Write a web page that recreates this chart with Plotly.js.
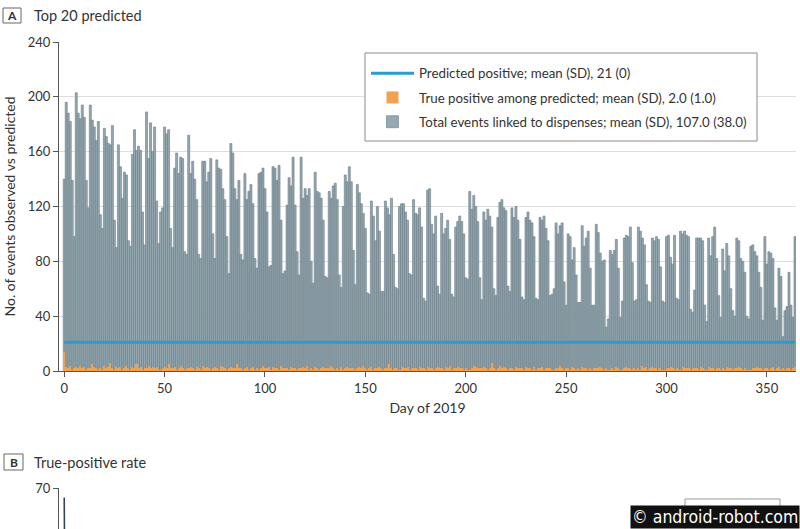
<!DOCTYPE html>
<html><head><meta charset="utf-8">
<script src="https://cdn.plot.ly/plotly-3.0.1.min.js"></script>
<style>html,body{margin:0;padding:0;background:#fff}#chart{width:800px;height:529px}</style>
</head><body><div id="chart"></div>
<script>
// Panel A: total events linked to dispenses, per day of 2019 (Jan 1 .. Dec 31)
const totalEvents = [
140,196,188,182,139,98,
203,188,184,194,185,139,119,
194,183,178,168,182,114,104,
177,171,166,165,179,110,90,
165,149,126,145,143,95,91,
158,176,161,164,161,116,92,
189,155,181,160,178,124,93,
116,119,178,173,176,104,90,
148,159,144,156,155,87,85,
172,144,153,140,125,85,82,
153,153,138,145,155,100,82,
154,148,147,133,125,98,71,
166,159,133,125,139,85,81,
144,125,131,136,122,82,75,
144,145,148,133,116,76,77,
149,148,139,150,110,71,73,
121,141,135,156,121,87,70,
156,126,133,128,133,80,64,
145,131,130,126,110,69,68,
131,126,135,137,125,70,61,
120,143,138,149,138,88,63,
136,130,122,115,104,57,56,
124,113,95,120,102,58,58,
124,119,114,126,85,61,60,
120,122,122,116,110,71,70,
125,115,114,119,105,53,51,
132,133,107,100,113,62,56,
115,100,104,110,96,56,54,
105,109,113,109,100,68,67,
131,118,128,120,109,68,52,
116,110,118,113,105,60,55,
112,123,125,119,117,62,58,
119,112,120,110,96,54,52,
112,116,110,108,98,53,52,
112,110,113,104,95,55,56,
60,108,100,106,108,65,48,
100,98,81,90,70,50,50,
106,91,97,102,75,48,48,
107,101,86,80,81,32,38,
88,85,88,96,75,39,51,
97,99,98,105,79,51,52,
105,102,97,92,63,51,50,
97,95,98,96,76,51,50,
98,99,83,78,99,53,52,
102,100,102,99,98,45,43,
59,97,97,97,95,48,36,
97,84,98,105,82,55,39,
89,73,93,84,60,44,40,
97,95,82,80,72,40,38,
91,92,87,84,72,61,37,
98,78,87,86,82,46,37,
75,69,25,44,47,72,48,
39,98
];
// True positives among the predicted, per day
const truePositives = [
14,3,2,4,1,2,
3,2,4,2,3,1,2,
2,5,3,2,1,2,1,
4,2,3,6,2,1,3,
2,3,1,2,4,2,1,
3,2,5,2,3,1,2,
2,4,2,3,2,3,1,
1,2,3,2,5,2,2,
3,1,2,4,2,1,2,
2,3,2,1,3,2,1,
4,2,3,2,1,2,3,
2,1,4,3,2,1,2,
3,2,2,5,2,2,1,
2,3,1,2,3,1,2,
1,2,4,2,2,3,1,
3,2,2,1,4,2,2,
2,1,3,2,2,1,2,
2,3,2,4,1,2,1,
3,2,1,2,3,2,2,
2,4,2,1,2,1,3,
1,2,3,2,2,2,1,
2,3,2,4,2,1,2,
3,1,2,2,3,2,1,
2,2,5,2,1,2,2,
1,3,2,2,3,1,2,
2,2,1,3,2,2,1,
3,2,2,1,2,3,2,
2,1,3,2,4,1,2,
2,3,2,2,1,2,1,
1,2,4,3,2,2,2,
3,2,1,2,6,2,1,
2,4,2,3,2,1,2,
2,1,3,2,2,2,1,
3,2,2,1,3,1,2,
2,3,1,2,2,2,1,
1,2,2,4,2,1,2,
2,1,3,2,1,2,1,
3,2,2,1,2,1,2,
2,2,3,2,1,2,1,
1,2,1,3,2,1,1,
2,3,2,2,1,2,1,
2,1,4,2,3,1,2,
3,2,2,1,2,1,1,
2,2,3,2,1,2,1,
1,3,2,2,2,1,2,
2,2,1,3,2,1,1,
3,2,2,1,2,2,1,
2,1,3,2,2,1,2,
2,3,2,1,2,1,1,
1,2,2,3,2,2,1,
2,2,1,2,3,1,2,
3,1,2,1,2,2,1,
2,3
];
// Predicted positive per day (constant 21, SD 0)
const predictedPositive = [
21,21,21,21,21,21,21,21,21,21,21,21,21,21,21,21,21,21,21,21,
21,21,21,21,21,21,21,21,21,21,21,21,21,21,21,21,21,21,21,21,
21,21,21,21,21,21,21,21,21,21,21,21,21,21,21,21,21,21,21,21,
21,21,21,21,21,21,21,21,21,21,21,21,21,21,21,21,21,21,21,21,
21,21,21,21,21,21,21,21,21,21,21,21,21,21,21,21,21,21,21,21,
21,21,21,21,21,21,21,21,21,21,21,21,21,21,21,21,21,21,21,21,
21,21,21,21,21,21,21,21,21,21,21,21,21,21,21,21,21,21,21,21,
21,21,21,21,21,21,21,21,21,21,21,21,21,21,21,21,21,21,21,21,
21,21,21,21,21,21,21,21,21,21,21,21,21,21,21,21,21,21,21,21,
21,21,21,21,21,21,21,21,21,21,21,21,21,21,21,21,21,21,21,21,
21,21,21,21,21,21,21,21,21,21,21,21,21,21,21,21,21,21,21,21,
21,21,21,21,21,21,21,21,21,21,21,21,21,21,21,21,21,21,21,21,
21,21,21,21,21,21,21,21,21,21,21,21,21,21,21,21,21,21,21,21,
21,21,21,21,21,21,21,21,21,21,21,21,21,21,21,21,21,21,21,21,
21,21,21,21,21,21,21,21,21,21,21,21,21,21,21,21,21,21,21,21,
21,21,21,21,21,21,21,21,21,21,21,21,21,21,21,21,21,21,21,21,
21,21,21,21,21,21,21,21,21,21,21,21,21,21,21,21,21,21,21,21,
21,21,21,21,21,21,21,21,21,21,21,21,21,21,21,21,21,21,21,21,
21,21,21,21,21
];
// Panel B: true-positive rate (%), only the top of the panel is visible
const tpRateDays = [0, 1];
const tpRate = [68, 9];

const xTickVals = [0, 50, 100, 150, 200, 250, 300, 350];
const yTickVals = [0, 40, 80, 120, 160, 200, 240];
const y2TickVals = [70];

const legendNames = [
  'Predicted positive; mean (SD), 21 (0)',
  'True positive among predicted; mean (SD), 2.0 (1.0)',
  'Total events linked to dispenses; mean (SD), 107.0 (38.0)'
];

const days = totalEvents.map((_, i) => i);

const FONT = 'Lato, "Open Sans", sans-serif';
const TXT = '#333333';
// pixel -> paper helpers (plot area x: 59..796, y: 42..529)
const PL = 59, PW = 737, PT = 42, PH = 487;
const px = v => (v - PL) / PW;
const py = v => (PT + PH - v) / PH;

const traces = [
  {
    type: 'bar', x: days, y: totalEvents, name: legendNames[2],
    marker: {color: '#95a8b0', line: {color: '#687b84', width: 0.6}},
    width: 1, legendgroup: 'g3', legendrank: 3, hoverinfo: 'skip'
  },
  {
    type: 'bar', x: days, y: truePositives, name: legendNames[1],
    marker: {color: '#f2a24f', line: {width: 0}},
    width: 1, legendgroup: 'g2', legendrank: 2, hoverinfo: 'skip'
  },
  {
    type: 'scatter', mode: 'lines', x: days, y: predictedPositive, name: legendNames[0],
    line: {color: '#2b9bd3', width: 3}, legendgroup: 'g1', legendrank: 1, hoverinfo: 'skip'
  },
  {
    type: 'scatter', mode: 'lines', x: tpRateDays, y: tpRate, xaxis: 'x', yaxis: 'y2',
    line: {color: '#33474f', width: 1.6}, showlegend: false, hoverinfo: 'skip'
  }
];

const layout = {
  width: 800, height: 529,
  margin: {l: PL, r: 800 - PL - PW, t: PT, b: 0, pad: 0},
  paper_bgcolor: '#ffffff', plot_bgcolor: '#ffffff',
  font: {family: FONT, size: 13, color: TXT},
  barmode: 'overlay', bargap: 0,
  showlegend: true,
  legend: {
    x: px(366), y: py(58), xanchor: 'left', yanchor: 'top',
    borderwidth: 0, bgcolor: 'rgba(0,0,0,0)',
    font: {family: FONT, size: 13.3, color: TXT},
    traceorder: 'grouped', tracegroupgap: 4, itemwidth: 43
  },
  xaxis: {
    range: [-2.6, 364.5], tickvals: xTickVals, ticks: 'outside', ticklen: 5,
    tickcolor: '#555', showline: true, linecolor: '#555', linewidth: 1,
    showgrid: false, zeroline: false, anchor: 'y', automargin: false,
    tickfont: {size: 13, color: TXT},
    title: {text: 'Day of 2019', font: {size: 14, color: TXT}, standoff: 8}
  },
  yaxis: {
    domain: [py(371), 1], range: [0, 240], tickvals: yTickVals,
    ticks: 'outside', ticklen: 5, tickcolor: '#555',
    showline: true, linecolor: '#555', linewidth: 1,
    showgrid: true, gridcolor: '#dedede', gridwidth: 1, zeroline: false,
    automargin: false, tickfont: {size: 13, color: TXT},
    title: {text: 'No. of events observed vs predicted', font: {size: 14, color: TXT}, standoff: 8}
  },
  yaxis2: {
    domain: [0, py(488)], range: [61.3, 70.05], tickvals: y2TickVals, anchor: 'x',
    ticks: 'outside', ticklen: 5, tickcolor: '#555',
    showline: true, linecolor: '#555', linewidth: 1,
    showgrid: true, gridcolor: '#dedede', zeroline: false, automargin: false,
    tickfont: {size: 13, color: TXT}
  },
  shapes: [
    {type: 'rect', xref: 'paper', yref: 'paper', x0: px(3), x1: px(21), y0: py(23), y1: py(8),
     line: {color: '#666', width: 1}, fillcolor: 'rgba(0,0,0,0)'},
    {type: 'rect', xref: 'paper', yref: 'paper', x0: px(4), x1: px(23), y0: py(470), y1: py(454),
     line: {color: '#666', width: 1}, fillcolor: 'rgba(0,0,0,0)'},
    // legend frame of panel A
    {type: 'rect', xref: 'paper', yref: 'paper', x0: px(365), x1: px(757), y0: py(141), y1: py(53),
     line: {color: '#8a8a8a', width: 1}, fillcolor: '#ffffff', layer: 'above'},
    // legend frame of panel B (cut off at the bottom)
    {type: 'rect', xref: 'paper', yref: 'paper', x0: px(685), x1: px(780), y0: py(540), y1: py(499),
     line: {color: '#999', width: 1}, fillcolor: '#ffffff'}
  ],
  annotations: [
    {text: '<b>A</b>', xref: 'paper', yref: 'paper', x: px(12), y: py(15.5),
     xanchor: 'center', yanchor: 'middle', showarrow: false, font: {size: 12, color: TXT}},
    {text: 'Top 20 predicted', xref: 'paper', yref: 'paper', x: px(32), y: py(15),
     xanchor: 'left', yanchor: 'middle', showarrow: false, font: {size: 14.5, color: TXT}},
    {text: '<b>B</b>', xref: 'paper', yref: 'paper', x: px(13.5), y: py(462),
     xanchor: 'center', yanchor: 'middle', showarrow: false, font: {size: 12, color: TXT}},
    {text: 'True-positive rate', xref: 'paper', yref: 'paper', x: px(32), y: py(462),
     xanchor: 'left', yanchor: 'middle', showarrow: false, font: {size: 14.5, color: TXT}},
    {text: '© android-robot.com', xref: 'paper', yref: 'paper', x: px(800), y: 0,
     xanchor: 'right', yanchor: 'bottom', showarrow: false, bgcolor: '#111111', borderpad: 1,
     font: {family: '"DejaVu Sans Condensed", "Liberation Sans Narrow", sans-serif', size: 17.5, color: '#ffffff'}}
  ]
};

Plotly.newPlot('chart', traces, layout, {displayModeBar: false, staticPlot: true});
</script>
</body></html>
